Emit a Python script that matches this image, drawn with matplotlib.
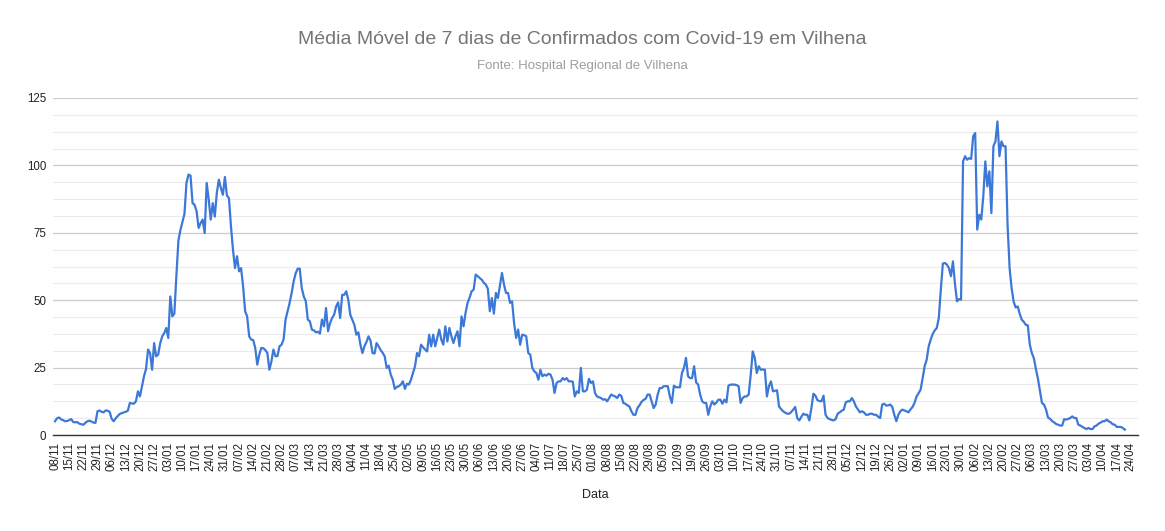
import numpy as np
import pandas as pd
import matplotlib
matplotlib.use("Agg")
import matplotlib.pyplot as plt
import matplotlib.dates as mdates

plt.rcParams['font.family'] = ['Liberation Sans', 'DejaVu Sans']

# 7-day moving average of confirmed cases, one value per day from 08/11/2020
start_date = "2020-11-08"
media_movel = [
    5.1, 6.2, 6.5, 5.8, 5.5, 5.1, 5.2, 5.5, 5.9, 4.8,
    4.7, 4.8, 4.2, 4.0, 3.8, 4.5, 5.1, 5.3, 5.0, 4.6,
    4.5, 8.8, 9.1, 8.6, 8.4, 9.1, 9.0, 8.6, 6.0, 5.1,
    6.2, 7.0, 7.8, 8.1, 8.4, 8.6, 9.0, 11.9, 11.7, 11.6,
    12.5, 16.2, 14.3, 18.0, 21.8, 24.5, 31.7, 30.4, 24.2, 34.1,
    29.2, 29.8, 34.0, 36.6, 37.8, 39.7, 36.0, 51.4, 44.0, 45.0,
    58.9, 72.0, 76.0, 79.0, 82.0, 93.5, 96.6, 96.2, 86.0, 85.4,
    83.0, 76.8, 78.6, 79.9, 74.9, 93.5, 87.3, 79.9, 86.0, 81.0,
    89.8, 94.7, 91.6, 89.1, 95.7, 88.8, 87.9, 77.4, 68.7, 61.9,
    66.3, 60.7, 61.9, 55.1, 45.9, 44.0, 36.6, 35.4, 35.2, 32.3,
    26.1, 29.8, 32.3, 32.2, 31.5, 30.4, 24.2, 27.3, 31.7, 29.2,
    29.3, 32.9, 33.5, 35.4, 42.8, 45.9, 49.0, 52.7, 57.0, 60.0,
    61.7, 61.7, 54.5, 51.4, 49.6, 42.8, 42.2, 39.1, 38.8, 38.1,
    38.3, 37.6, 42.8, 40.3, 47.1, 38.5, 41.5, 43.4, 44.6, 47.7,
    49.2, 43.4, 52.0, 52.0, 53.3, 50.2, 44.6, 42.8, 40.9, 37.2,
    38.1, 33.5, 30.4, 32.9, 34.5, 36.6, 35.0, 30.4, 30.2, 34.1,
    32.9, 31.5, 30.5, 29.2, 24.9, 25.7, 22.4, 20.5, 17.1, 17.8,
    18.1, 18.7, 19.9, 17.1, 19.0, 18.7, 20.5, 23.0, 25.5, 30.4,
    29.2, 33.5, 32.5, 31.7, 31.0, 37.2, 32.9, 37.2, 32.9, 36.0,
    39.1, 35.4, 33.5, 40.3, 34.7, 39.7, 36.6, 34.1, 36.6, 38.5,
    32.9, 44.0, 40.3, 45.3, 49.0, 51.0, 53.3, 53.9, 59.5, 58.9,
    58.2, 57.6, 56.5, 55.8, 54.3, 45.9, 50.8, 45.0, 52.7, 50.8,
    55.5, 60.1, 55.8, 52.7, 52.7, 49.0, 49.6, 41.5, 36.0, 39.1,
    33.5, 37.2, 37.0, 36.6, 30.4, 29.8, 24.9, 23.6, 23.0, 20.5,
    24.2, 21.8, 22.4, 22.0, 22.7, 22.4, 20.5, 15.6, 19.3, 19.9,
    19.9, 21.1, 20.5, 21.1, 19.9, 19.9, 19.8, 14.3, 16.2, 15.6,
    24.9, 16.2, 16.2, 16.8, 20.8, 19.3, 19.9, 15.6, 14.3, 14.0,
    13.7, 13.1, 13.3, 12.5, 13.7, 15.0, 14.6, 14.3, 13.7, 15.0,
    14.5, 11.9, 11.6, 11.0, 10.6, 8.8, 7.5, 7.5, 10.0, 11.0,
    12.3, 13.0, 13.4, 15.0, 15.0, 12.5, 10.0, 11.3, 15.0, 17.4,
    17.4, 18.1, 18.1, 18.1, 14.3, 11.9, 18.3, 17.7, 17.7, 17.7,
    23.0, 24.9, 28.6, 21.8, 21.1, 21.1, 25.5, 19.5, 18.7, 15.0,
    12.5, 11.9, 11.9, 7.5, 10.6, 12.5, 11.3, 12.0, 13.1, 13.1,
    11.6, 13.1, 12.1, 18.3, 18.7, 18.7, 18.7, 18.5, 18.1, 11.9,
    13.7, 14.3, 14.3, 15.0, 22.4, 31.0, 28.6, 23.0, 25.5, 24.2,
    24.3, 24.2, 14.3, 18.1, 19.9, 16.2, 16.4, 16.6, 10.6, 9.6,
    8.8, 8.3, 7.9, 7.9, 8.5, 9.4, 10.4, 6.3, 5.4, 6.7,
    7.9, 7.5, 7.5, 5.4, 10.0, 15.3, 14.6, 12.9, 12.6, 12.5,
    14.6, 7.5, 6.3, 5.9, 5.6, 5.4, 5.9, 7.9, 8.4, 9.0,
    9.4, 12.1, 12.5, 12.5, 13.7, 12.5, 10.6, 9.5, 8.4, 8.8,
    8.4, 7.5, 7.5, 7.9, 7.9, 7.5, 7.5, 6.8, 6.3, 11.3,
    11.6, 10.9, 11.0, 11.3, 10.4, 7.5, 5.1, 7.5, 8.8, 9.4,
    9.1, 8.8, 8.4, 9.5, 10.4, 11.9, 14.3, 15.5, 16.8, 21.0,
    25.5, 27.9, 32.9, 35.4, 37.5, 38.8, 39.7, 43.4, 53.9, 63.6,
    63.8, 63.2, 61.9, 58.9, 64.4, 56.0, 49.6, 50.4, 50.2, 101.5,
    103.4, 102.1, 102.7, 102.4, 110.8, 112.0, 76.2, 81.7, 79.9, 88.5,
    101.5, 92.2, 97.8, 82.3, 107.1, 108.9, 116.3, 103.4, 108.9, 107.1,
    107.1, 78.0, 62.0, 54.5, 49.5, 47.3, 47.7, 45.0, 42.8, 42.0,
    40.9, 40.7, 33.5, 30.4, 28.5, 24.5, 21.0, 16.5, 11.9, 11.3,
    9.5, 6.5, 6.0, 5.2, 4.7, 4.1, 3.8, 3.5, 3.5, 5.9,
    5.7, 6.0, 6.3, 6.9, 6.3, 6.3, 3.8, 3.5, 3.0, 2.6,
    2.2, 2.6, 2.2, 2.2, 3.2, 3.5, 4.2, 4.6, 5.1, 5.1,
    5.7, 5.1, 4.7, 4.0, 3.8, 3.0, 3.0, 3.0, 2.6, 2.0,
]
tick_start = "2020-11-08"
tick_end = "2022-04-24"
y_ticks = [0, 25, 50, 75, 100, 125]

titulo = "Média Móvel de 7 dias de Confirmados com Covid-19 em Vilhena"
subtitulo = "Fonte: Hospital Regional de Vilhena"

datas = pd.date_range(start_date, periods=len(media_movel), freq="D")
ticks = pd.date_range(tick_start, tick_end, freq="7D")

fig = plt.figure(figsize=(11.65, 5.31), dpi=100)
ax = fig.add_axes([53 / 1165, 1 - 435 / 531, (1138 - 53) / 1165, (435 - 98) / 531])

ax.plot(datas, media_movel, color="#3c78d8", lw=1.6, solid_joinstyle="round")

ax.set_ylim(0, 125)
ax.set_xlim(datas[0] - pd.Timedelta(days=1), ticks[-1] + pd.Timedelta(days=3.5))
ax.set_yticks(y_ticks)
ax.set_yticks(np.arange(0, 125.1, 6.25), minor=True)
ax.grid(axis="y", which="major", color="#cccccc", lw=0.9)
ax.grid(axis="y", which="minor", color="#ebebeb", lw=0.8)
ax.set_axisbelow(True)

ax.set_xticks(ticks)
ax.set_xticklabels([t.strftime("%d/%m") for t in ticks], rotation=90)
ax.tick_params(axis="x", length=0, pad=5, labelsize=8.3, labelcolor="#222222")
ax.tick_params(axis="y", which="both", length=0, pad=5, labelsize=8.3, labelcolor="#222222")

for s in ["left", "right", "top"]:
    ax.spines[s].set_visible(False)
ax.spines["bottom"].set_color("#333333")
ax.spines["bottom"].set_linewidth(1.0)

fig.text(0.5, 1 - 40 / 531, titulo, ha="center", va="center", fontsize=14, color="#757575")
fig.text(0.5, 1 - 66 / 531, subtitulo, ha="center", va="center", fontsize=9.5, color="#9e9e9e")
fig.text(595.5 / 1165, 1 - 495 / 531, "Data", ha="center", va="center", fontsize=9, color="#222222")

fig.savefig("out.png", dpi=100)
